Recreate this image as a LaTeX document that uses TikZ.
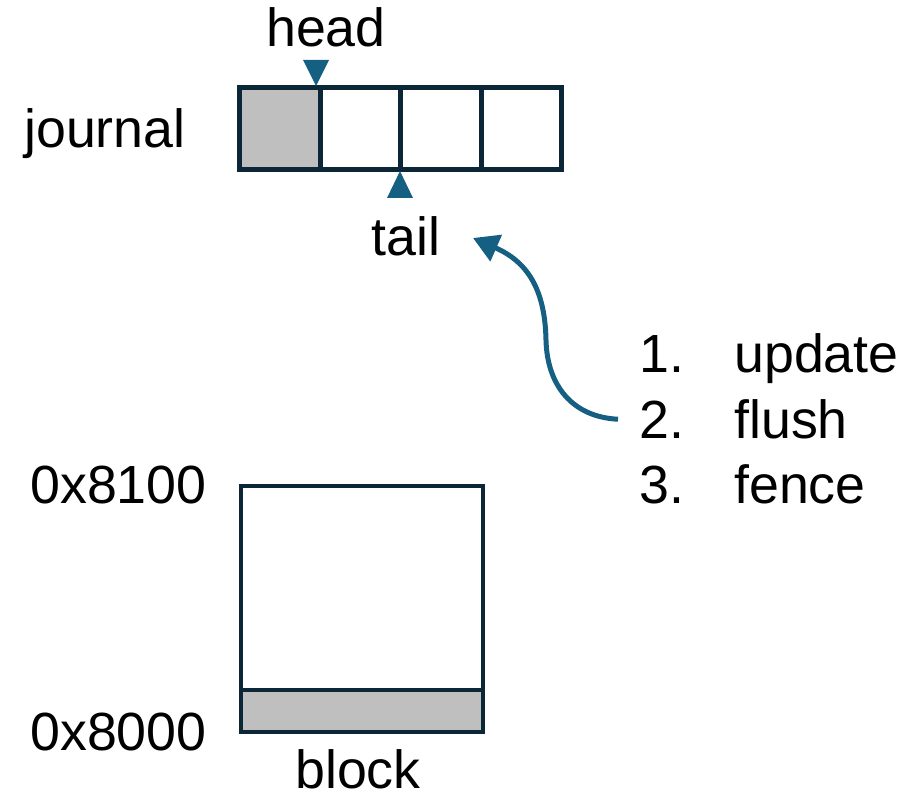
\documentclass[tikz,border=0pt]{standalone}
\usepackage{fontspec}
\setmainfont{Liberation Sans}
\usetikzlibrary{arrows.meta}
\definecolor{edge}{HTML}{0B2636}
\definecolor{accent}{HTML}{156082}
\definecolor{shade}{HTML}{BFBFBF}
\begin{document}
\begin{tikzpicture}[x=0.75pt,y=-0.75pt,
  lbl/.style={inner sep=0pt,font=\fontsize{40.3}{48}\selectfont,text=black},
  cell/.style={draw=edge,line width=3.75pt,minimum width=60.375pt,minimum height=61.875pt,inner sep=0pt,anchor=center},
  mem/.style={draw=edge,line width=3.2pt,minimum width=181.5pt,inner sep=0pt},
  marker/.style={fill=accent},
  flow/.style={draw=accent,line width=3.75pt,-{Triangle[length=19pt,width=21pt]}}]
\useasboundingbox (0,0) rectangle (915,795);
% journal cells
\node[cell,fill=shade] (c1) at (279.75,128.75) {};
\node[cell] (c2) at (360.25,128.75) {};
\node[cell] (c3) at (440.75,128.75) {};
\node[cell] (c4) at (521.25,128.75) {};
% pointers
\fill[marker] (303,60) -- (329,60) -- (316,86) -- cycle;
\fill[marker] (387,198) -- (413,198) -- (400,171) -- cycle;
% labels
\node[lbl,anchor=base] (head) at (326,47) {head};
\node[lbl,anchor=base west] (journal) at (24,148) {journal};
\node[lbl,anchor=base] (tail) at (406,256) {tail};
% block
\node[mem,fill=white,minimum height=153pt,anchor=north west] (blk) at (238.5,484) {};
\node[mem,fill=shade,minimum height=31.5pt,anchor=north west] (base) at (238.5,688) {};
\node[lbl,anchor=base west] (hi) at (30,503) {0x8100};
\node[lbl,anchor=base west] (lo) at (30,750) {0x8000};
\node[lbl,anchor=base] (blabel) at (358,788) {block};
% list
\node[lbl,anchor=base west] (n1) at (639,373) {1.};
\node[lbl,anchor=base west] (n2) at (639,438) {2.};
\node[lbl,anchor=base west] (n3) at (639,503) {3.};
\node[lbl,anchor=base west] (w1) at (734,373) {update};
\node[lbl,anchor=base west] (w2) at (734,438) {flush};
\node[lbl,anchor=base west] (w3) at (734,503) {fence};
% arrow
\coordinate (arrS) at ([xshift=-15.75pt]n2.west);
\coordinate (arrE) at (473,238);
\draw[flow] (arrS) .. controls (572,417) and (547,385) .. (546,340)
  .. controls (545,290) and (528,262) .. (arrE);
\end{tikzpicture}
\end{document}
